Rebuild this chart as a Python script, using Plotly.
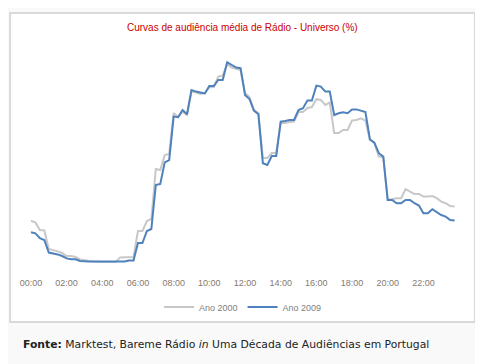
import plotly.graph_objects as go

# 15-minute slots over the day
times = [f"{h:02d}:{m:02d}" for h in range(24) for m in (0, 15, 30, 45)]
tick_labels = ["00:00", "02:00", "04:00", "06:00", "08:00", "10:00",
               "12:00", "14:00", "16:00", "18:00", "20:00", "22:00"]

ano_2000 = [2.45, 2.38, 2.0, 1.98, 1.05, 1.0, 0.93, 0.85, 0.7, 0.7,
            0.65, 0.53, 0.48, 0.45, 0.43, 0.4, 0.4, 0.4, 0.4, 0.4,
            0.63, 0.63, 0.63, 0.65, 1.95, 1.95, 2.45, 2.55, 5.05, 5.0,
            5.75, 5.8, 7.85, 7.65, 7.92, 7.75, 8.95, 8.88, 8.8, 8.85,
            9.14, 9.15, 9.67, 9.72, 10.29, 10.12, 10.05, 10.0, 8.85, 8.65,
            8.0, 7.85, 5.6, 5.6, 5.85, 5.85, 7.35, 7.35, 7.4, 7.42,
            7.9, 7.9, 8.1, 8.15, 8.54, 8.5, 8.25, 8.37, 6.85, 6.85,
            7.0, 7.0, 7.48, 7.5, 7.58, 7.47, 6.5, 6.35, 5.67, 5.65,
            3.5, 3.54, 3.59, 3.59, 4.04, 3.92, 3.8, 3.8, 3.67, 3.67,
            3.7, 3.59, 3.42, 3.34, 3.2, 3.17]

ano_2009 = [1.89, 1.83, 1.59, 1.5, 0.87, 0.84, 0.78, 0.7, 0.58, 0.54,
            0.54, 0.45, 0.42, 0.42, 0.42, 0.42, 0.42, 0.42, 0.42, 0.42,
            0.42, 0.42, 0.47, 0.47, 1.35, 1.35, 1.95, 2.05, 4.25, 4.3,
            5.38, 5.49, 7.67, 7.64, 8.0, 7.79, 9.0, 8.92, 8.88, 8.83,
            9.2, 9.2, 9.5, 9.5, 10.39, 10.25, 10.12, 10.09, 8.75, 8.55,
            7.97, 7.79, 5.34, 5.25, 5.7, 5.7, 7.42, 7.45, 7.5, 7.5,
            8.0, 8.09, 8.47, 8.47, 9.22, 9.17, 8.92, 8.92, 7.75, 7.84,
            7.89, 7.84, 8.03, 8.03, 7.95, 7.9, 6.54, 6.37, 5.84, 5.67,
            3.5, 3.5, 3.34, 3.34, 3.5, 3.5, 3.34, 3.22, 2.84, 2.84,
            3.04, 2.89, 2.75, 2.67, 2.5, 2.47]

OFF = 8  # page body margin
W, H = 483 - OFF, 364 - OFF
L, R, T, B = 12, 20, 42, 94
pw, ph = W - L - R, H - T - B


def px(x):
    return (x - OFF - L) / pw


def py(y):
    return (H - B - (y - OFF)) / ph


fig = go.Figure()
fig.add_trace(go.Scatter(x=times, y=ano_2000, mode="lines", name="Ano 2000",
                         line=dict(color="#c8c8c8", width=2)))
fig.add_trace(go.Scatter(x=times, y=ano_2009, mode="lines", name="Ano 2009",
                         line=dict(color="#4f81bd", width=2)))

fig.add_shape(type="rect", xref="paper", yref="paper",
              x0=px(7), x1=px(475), y0=py(322), y1=py(13),
              fillcolor="white", line=dict(color="#d9d9d9", width=2),
              layer="below")

fig.add_annotation(xref="paper", yref="paper", x=px(241), y=py(28),
                   text="Curvas de audiência média de Rádio - Universo (%)",
                   showarrow=False, xanchor="center", yanchor="middle",
                   font=dict(family="Liberation Sans", size=10, color="#cc0000"))

fig.add_annotation(xref="paper", yref="paper", x=px(18), y=py(344),
                   text="<b>Fonte:</b> Marktest, Bareme Rádio <i>in</i> Uma Década de Audiências em Portugal",
                   showarrow=False, xanchor="left", yanchor="middle",
                   font=dict(family="DejaVu Sans", size=10.8, color="#222222"))

fig.update_layout(
    width=W, height=H,
    margin=dict(l=L, r=R, t=T, b=B),
    paper_bgcolor="#f9f9f9",
    plot_bgcolor="white",
    showlegend=True,
    legend=dict(orientation="h", x=0.5, xanchor="center",
                y=py(307), yanchor="middle",
                font=dict(family="Liberation Sans", size=9, color="#808080"),
                bgcolor="rgba(0,0,0,0)", itemwidth=30, tracegroupgap=0),
    xaxis=dict(type="category", range=[-1.78, 96.88],
               tickvals=tick_labels, ticktext=tick_labels,
               showgrid=False, zeroline=False, showline=False, ticks="",
               ticklabelstandoff=6,
               tickfont=dict(family="Liberation Sans", size=9, color="#857a70")),
    yaxis=dict(range=[0, 11], visible=False, showgrid=False, zeroline=False),
)

fig.write_html("out.html")
